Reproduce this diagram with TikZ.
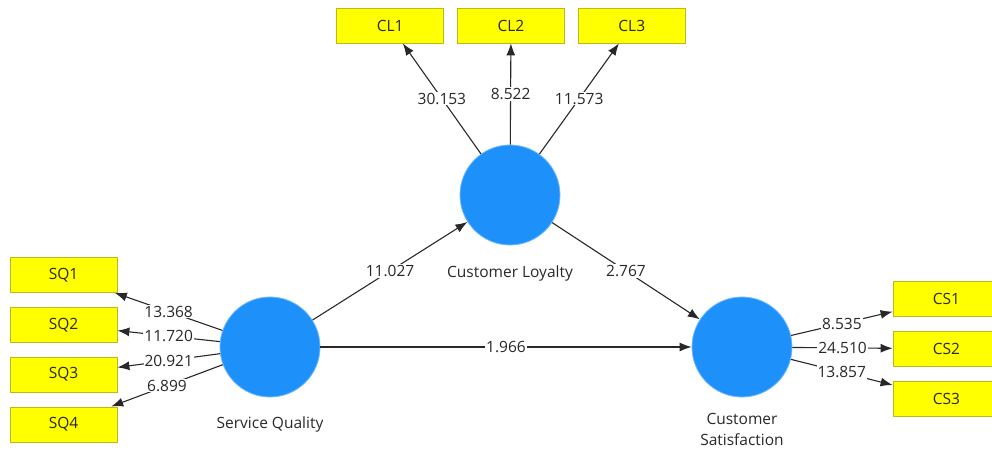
\documentclass[tikz,border=0pt]{standalone}
\usepackage{fontspec}
\setmainfont{Open Sans}
\usetikzlibrary{arrows.meta,positioning}

\definecolor{latentblue}{RGB}{30,144,250}
\definecolor{latentrim}{RGB}{110,185,255}
\definecolor{boxyellow}{RGB}{255,255,0}
\definecolor{boxrim}{RGB}{185,185,30}
\definecolor{inkgray}{RGB}{40,40,40}

\tikzset{
    latent/.style={circle, fill=latentblue, draw=latentrim, line width=0.8pt, minimum size=100pt, inner sep=0pt},
    indicator/.style={rectangle, fill=boxyellow, draw=boxrim, line width=0.8pt, minimum width=107pt, minimum height=35pt, inner sep=0pt, text=inkgray},
    lvname/.style={text=inkgray, align=center, inner sep=1pt},
    path/.style={draw=inkgray, line width=1.1pt, -{Latex[length=12pt,width=9pt]}},
    val/.style={fill=white, text=inkgray, inner sep=1pt}
}

\begin{document}
\begin{tikzpicture}[x=1pt, y=-1pt, font=\fontsize{15.5}{21}\selectfont]
        \useasboundingbox (0,0) rectangle (992,454);
        % latent variables
        \node[latent] (SQ) at (270,347) {};
        \node[latent] (CL) at (510,195) {};
        \node[latent] (CS) at (742,347) {};
        \node[lvname, below=18pt of SQ] (SQname) {Service Quality};
        \node[lvname, below=19pt of CL] (CLname) {Customer Loyalty};
        \node[lvname, below=15pt of CS] (CSname) {Customer\\Satisfaction};
        % indicators
        \node[indicator] (CL2) at (511,25.5) {CL2};
        \node[indicator, left=13pt of CL2] (CL1) {CL1};
        \node[indicator, right=13pt of CL2] (CL3) {CL3};
        \node[indicator] (SQ1) at (63.5,275) {SQ1};
        \node[indicator, below=14pt of SQ1] (SQ2) {SQ2};
        \node[indicator, below=14pt of SQ2] (SQ3) {SQ3};
        \node[indicator, below=14pt of SQ3] (SQ4) {SQ4};
        \node[indicator] (CS1) at (946.5,299) {CS1};
        \node[indicator, below=14pt of CS1] (CS2) {CS2};
        \node[indicator, below=14pt of CS2] (CS3) {CS3};
        % structural paths
        \draw[path] (SQ) -- node[val] {11.027} (CL);
        \draw[path] (CL) -- node[val] {2.767} (CS);
        \draw[path] (SQ) -- node[val] {1.966} (CS);
        % outer loadings
        \draw[path] (CL) -- node[val] {30.153} (CL1);
        \draw[path] (CL) -- node[val] {8.522} (CL2);
        \draw[path] (CL) -- node[val] {11.573} (CL3);
        \draw[path] (SQ) -- node[val] {13.368} (SQ1);
        \draw[path] (SQ) -- node[val] {11.720} (SQ2);
        \draw[path] (SQ) -- node[val] {20.921} (SQ3);
        \draw[path] (SQ) -- node[val] {6.899} (SQ4);
        \draw[path] (CS) -- node[val] {8.535} (CS1);
        \draw[path] (CS) -- node[val] {24.510} (CS2);
        \draw[path] (CS) -- node[val] {13.857} (CS3);
\end{tikzpicture}
\end{document}
